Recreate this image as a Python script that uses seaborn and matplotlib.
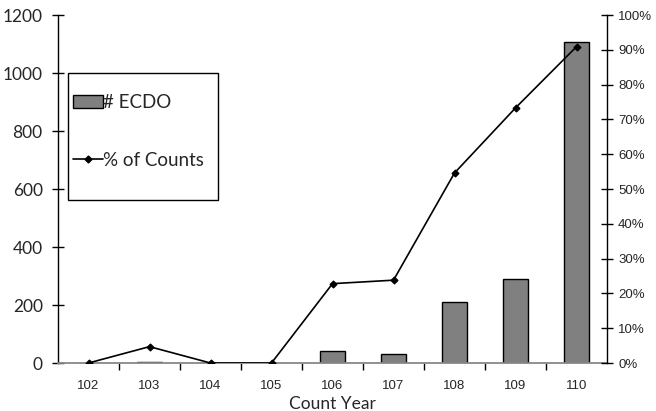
import matplotlib
matplotlib.use("Agg")
import matplotlib.pyplot as plt
import seaborn as sns
import pandas as pd
from matplotlib.patches import Patch, Rectangle
from matplotlib.lines import Line2D
from matplotlib.ticker import PercentFormatter

years = ["102", "103", "104", "105", "106", "107", "108", "109", "110"]
ecdo = [0, 4, 1, 1, 41, 30, 211, 289, 1108]
pct_counts = [0.0, 4.7, 0.0, 0.0, 22.8, 23.8, 54.6, 73.3, 90.9]

sns.set_theme(style="white")
plt.rcParams["font.family"] = ["Liberation Sans", "DejaVu Sans"]

df = pd.DataFrame({"year": years, "ecdo": ecdo, "pct": pct_counts})

fig = plt.figure(figsize=(6.56, 4.11), dpi=100)
ax = fig.add_axes([58 / 656, 48 / 411, 549 / 656, 348 / 411])

sns.barplot(data=df, x="year", y="ecdo", order=years, color="#808080",
            saturation=1, width=0.41, edgecolor="black", linewidth=1.0, ax=ax)
ax.set_ylim(0, 1200)
ax.set_yticks(range(0, 1201, 200))
ax.set_xlim(-0.5, len(years) - 0.5)
ax.set_ylabel("")
ax.set_xlabel("Count Year", fontsize=12.5, family=["Lato", "DejaVu Sans"], labelpad=3)
for s in ["top", "right"]:
    ax.spines[s].set_visible(False)
ax.spines["left"].set_color("black")
ax.spines["left"].set_linewidth(1.0)
ax.spines["bottom"].set_color("#888888")
ax.spines["bottom"].set_linewidth(1.3)
ax.tick_params(axis="y", direction="inout", length=8, width=1, color="black",
               labelsize=12.5, left=True, pad=7)
for lab in ax.get_yticklabels():
    lab.set_family(["Lato", "DejaVu Sans"])
ax.set_xticks(range(len(years)))
ax.set_xticklabels(years, fontsize=9.5)
ax.tick_params(axis="x", length=0, pad=12)
ax.set_xticks([i + 0.5 for i in range(len(years) - 1)], minor=True)
ax.tick_params(axis="x", which="minor", direction="out", length=5, width=1,
               color="black", bottom=True)

ax2 = ax.twinx()
sns.pointplot(data=df, x="year", y="pct", order=years, color="black",
              markers="D", markersize=3.5, linewidth=1.2, ax=ax2)
ax2.set_ylim(0, 100)
ax2.set_yticks(range(0, 101, 10))
ax2.yaxis.set_major_formatter(PercentFormatter(decimals=0))
ax2.set_ylabel("")
ax2.set_xlim(-0.5, len(years) - 0.5)
for s in ["top", "left", "bottom"]:
    ax2.spines[s].set_visible(False)
ax2.spines["right"].set_color("black")
ax2.spines["right"].set_linewidth(1.0)
ax2.tick_params(axis="y", direction="inout", length=8, width=1, color="black",
                labelsize=9.5, right=True, pad=4)

# legend box
box_x0, box_y0 = (68 - 58) / 549, (363 - 200) / 348
box_w, box_h = 150 / 549, 127 / 348
ax2.add_patch(Rectangle((box_x0, box_y0), box_w, box_h, transform=ax2.transAxes,
                        facecolor="white", edgecolor="black", linewidth=1.0,
                        zorder=9, clip_on=False))

handles = [
    Patch(facecolor="#808080", edgecolor="black", linewidth=1.0),
    Line2D([0], [0], color="black", marker="D", markersize=3.5, linewidth=1.2),
]
leg = ax2.legend(handles, ["# ECDO", "% of Counts"], loc="upper left",
                 bbox_to_anchor=(box_x0 + 1 / 549, (363 - 90) / 348), fontsize=13.5,
                 frameon=False, labelspacing=2.2, borderpad=0.2,
                 handlelength=1.6, handletextpad=0.0, borderaxespad=0)
leg.set_zorder(10)
for t in leg.get_texts():
    t.set_family(["Lato", "DejaVu Sans"])

fig.savefig("out.png", dpi=100)
